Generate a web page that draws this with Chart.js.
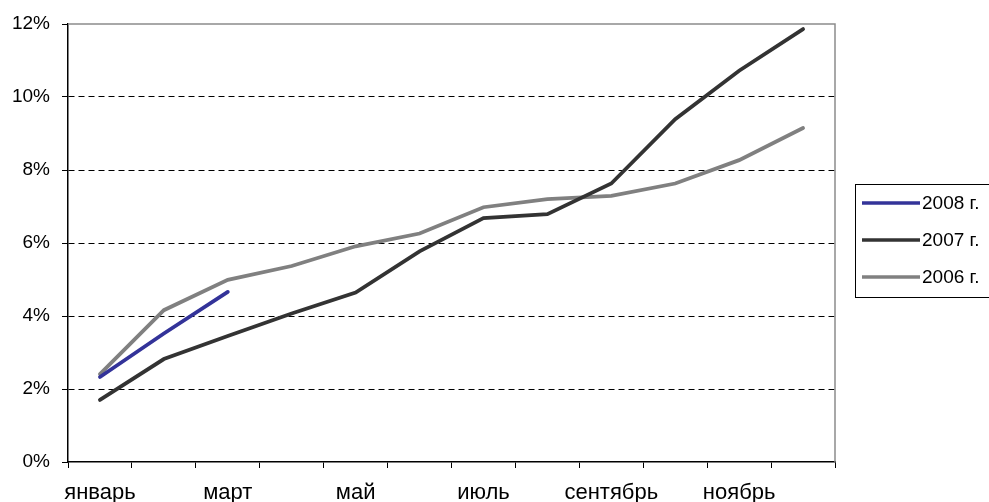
<!DOCTYPE html>
<html>
<head>
<meta charset="utf-8">
<script src="https://cdn.jsdelivr.net/npm/chart.js@4.4.1/dist/chart.umd.min.js"></script>
<style>
  html, body { margin: 0; padding: 0; background: #fff; }
  #wrap { width: 989px; height: 502px; }
</style>
</head>
<body>
<div id="wrap"><canvas id="chart"></canvas></div>
<script>
const months = ["январь", "февраль", "март", "апрель", "май", "июнь",
  "июль", "август", "сентябрь", "октябрь", "ноябрь", "декабрь"];
const yTicks = [0, 2, 4, 6, 8, 10, 12];

const series2008 = [2.33, 3.52, 4.66];
const series2007 = [1.70, 2.82, 3.45, 4.07, 4.64, 5.77, 6.68, 6.79, 7.63, 9.39, 10.72, 11.86];
const series2006 = [2.41, 4.16, 4.99, 5.37, 5.91, 6.26, 6.98, 7.20, 7.29, 7.63, 8.27, 9.15];

const FONT = "'Liberation Sans', Arial, sans-serif";
const AXIS_COLOUR = "#000";
const FRAME_COLOUR = "#8c8c8c";

// plot frame (grey top/right) and the boxed legend on the right
const framePlugin = {
  id: "frame",
  afterDraw(chart) {
    const { ctx, chartArea } = chart;
    ctx.save();
    ctx.strokeStyle = FRAME_COLOUR;
    ctx.lineWidth = 1.5;
    ctx.beginPath();
    ctx.moveTo(chartArea.left, chartArea.top);
    ctx.lineTo(chartArea.right, chartArea.top);
    ctx.lineTo(chartArea.right, chartArea.bottom);
    ctx.stroke();

    // legend
    const boxLeft = 855.5, boxTop = 184.5, boxBottom = 297.5;
    ctx.strokeStyle = "#000";
    ctx.lineWidth = 1;
    ctx.strokeRect(boxLeft, boxTop, 200, boxBottom - boxTop);
    ctx.font = "19px " + FONT;
    ctx.textBaseline = "middle";
    ctx.fillStyle = "#000";
    chart.data.datasets.forEach((ds, i) => {
      const y = 203 + i * 37;
      ctx.strokeStyle = ds.borderColor;
      ctx.lineWidth = 3.5;
      ctx.beginPath();
      ctx.moveTo(862, y);
      ctx.lineTo(920, y);
      ctx.stroke();
      ctx.fillText(ds.label, 922, y + 1);
    });
    ctx.restore();
  },
};

new Chart(document.getElementById("chart"), {
  type: "line",
  data: {
    labels: months,
    datasets: [
      { label: "2008 г.", data: series2008, borderColor: "#333399" },
      { label: "2007 г.", data: series2007, borderColor: "#333333" },
      { label: "2006 г.", data: series2006, borderColor: "#808080" },
    ],
  },
  options: {
    responsive: true,
    maintainAspectRatio: false,
    animation: false,
    devicePixelRatio: 1,
    layout: { padding: { top: 24, right: 154, left: 0, bottom: 0 } },
    elements: {
      line: { borderWidth: 3.8, tension: 0, borderCapStyle: "round" },
      point: { radius: 0 },
    },
    plugins: {
      legend: { display: false },
      tooltip: { enabled: false },
    },
    scales: {
      x: {
        offset: true,
        afterFit: (scale) => { scale.height = 40; },
        grid: {
          offset: true,
          drawOnChartArea: false,
          drawTicks: true,
          tickLength: 6,
          tickColor: AXIS_COLOUR,
        },
        border: { color: AXIS_COLOUR, width: 1.5 },
        ticks: {
          autoSkip: false,
          maxRotation: 0,
          padding: 12,
          color: "#000",
          font: { family: FONT, size: 22 },
          callback: (v, i) => (i % 2 === 0 ? months[i] : ""),
        },
      },
      y: {
        min: yTicks[0],
        max: yTicks[yTicks.length - 1],
        afterFit: (scale) => { scale.width = 68; },
        afterBuildTicks: (scale) => { scale.ticks = yTicks.map((v) => ({ value: v })); },
        grid: {
          color: (c) => (c.tick && (c.tick.value === 0 || c.tick.value === 12) ? "rgba(0,0,0,0)" : "#000"),
          tickColor: AXIS_COLOUR,
          tickLength: 6,
          lineWidth: 1,
        },
        border: { color: AXIS_COLOUR, width: 1.5, dash: [6, 4] },
        ticks: {
          padding: 12,
          color: "#000",
          font: { family: FONT, size: 19 },
          callback: (v) => v + "%",
        },
      },
    },
  },
  plugins: [framePlugin],
});
</script>
</body>
</html>
